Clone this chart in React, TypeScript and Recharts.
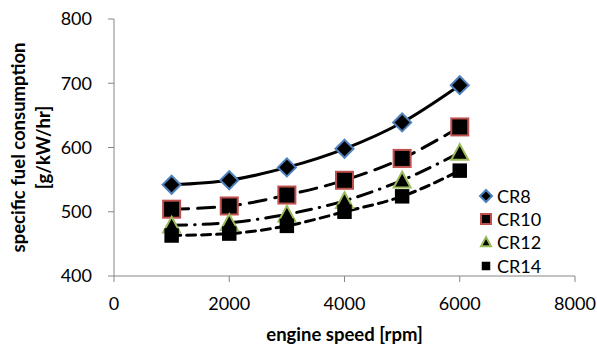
import React from 'react';
import { LineChart, Line, XAxis, YAxis, Legend } from 'recharts';

// engine speed [rpm]
const speeds = [1000, 2000, 3000, 4000, 5000, 6000];
// specific fuel consumption [g/kW/hr] per compression ratio
const cr8 = [542, 549, 569, 598, 639, 697];
const cr10 = [504, 509, 526, 549, 583, 632];
const cr12 = [479, 483, 496, 517, 549, 592];
const cr14 = [463, 466, 478, 500, 524, 564];

const xTicks = [0, 2000, 4000, 6000, 8000];
const yTicks = [400, 500, 600, 700, 800];

const FONT = 'Lato, "Open Sans", sans-serif';
const AXIS = '#868686';

const data = speeds.map((s, i) => ({
  speed: s,
  CR8: cr8[i],
  CR10: cr10[i],
  CR12: cr12[i],
  CR14: cr14[i],
}));

type Shape = 'diamond' | 'square' | 'triangle' | 'block';

const series: { key: string; shape: Shape; border: string; dash?: string }[] = [
  { key: 'CR8', shape: 'diamond', border: '#4F81BD' },
  { key: 'CR10', shape: 'square', border: '#C0504D', dash: '17 9' },
  { key: 'CR12', shape: 'triangle', border: '#9BBB59', dash: '15 8 0.5 8' },
  { key: 'CR14', shape: 'block', border: '#000000', dash: '9 6' },
];

// draws a marker centred on cx, cy; s is the half size
const Marker = ({ shape, cx, cy, s, border }: any) => {
  if (shape === 'diamond') {
    return (
      <path
        d={`M${cx} ${cy - s}L${cx + s} ${cy}L${cx} ${cy + s}L${cx - s} ${cy}Z`}
        fill="#000"
        stroke={border}
        strokeWidth={2}
      />
    );
  }
  if (shape === 'triangle') {
    return (
      <path
        d={`M${cx} ${cy - s}L${cx + s} ${cy + s * 0.85}L${cx - s} ${cy + s * 0.85}Z`}
        fill="#000"
        stroke={border}
        strokeWidth={2}
        strokeLinejoin="miter"
      />
    );
  }
  if (shape === 'square') {
    return <rect x={cx - s} y={cy - s} width={s * 2} height={s * 2} fill="#000" stroke={border} strokeWidth={2} />;
  }
  const b = s * 0.85;
  return <rect x={cx - b} y={cy - b} width={b * 2} height={b * 2} fill="#000" />;
};

const YTitle = ({ viewBox }: any) => {
  const cy = viewBox.y + viewBox.height / 2;
  return (
    <text
      transform={`translate(25, ${cy}) rotate(-90)`}
      textAnchor="middle"
      fontFamily={FONT}
      fontWeight="bold"
      fontSize={18.5}
      fill="#000"
    >
      <tspan x={0} y={0}>specific fuel consumption</tspan>
      <tspan x={0} y={25}>[g/kW/hr]</tspan>
    </text>
  );
};

const XTitle = ({ viewBox }: any) => (
  <text
    x={viewBox.x + viewBox.width / 2}
    y={341}
    textAnchor="middle"
    fontFamily={FONT}
    fontWeight="bold"
    fontSize={18.5}
    fill="#000"
  >
    engine speed [rpm]
  </text>
);

const LegendBox = () => (
  <div style={{ fontFamily: FONT, fontSize: 18, color: '#000' }}>
    {series.map((s) => (
      <div key={s.key} style={{ display: 'flex', alignItems: 'center', height: 23.3 }}>
        <svg width={18} height={18} style={{ marginRight: 2 }}>
          <Marker shape={s.shape} cx={9} cy={9} s={s.shape === 'diamond' ? 6 : 5} border={s.border} />
        </svg>
        <span>{s.key}</span>
      </div>
    ))}
  </div>
);

export default function App() {
  return (
    <div style={{ position: 'absolute', left: 0, top: 0, width: 597, height: 350, background: '#fff' }}>
      <LineChart width={597} height={350} data={data} margin={{ top: 19, right: 22, bottom: 14, left: 44 }}>
        <XAxis
          dataKey="speed"
          type="number"
          domain={[0, 8000]}
          ticks={xTicks}
          interval={0}
          height={60}
          stroke={AXIS}
          tickSize={6}
          tickMargin={15}
          tick={{ fill: '#000', fontSize: 18, fontFamily: FONT }}
          label={<XTitle />}
        />
        <YAxis
          type="number"
          domain={[400, 800]}
          ticks={yTicks}
          interval={0}
          width={70}
          stroke={AXIS}
          tickSize={6}
          tickMargin={16}
          tick={{ fill: '#000', fontSize: 18, fontFamily: FONT }}
          label={<YTitle />}
        />
        <Legend
          layout="vertical"
          align="center"
          verticalAlign="middle"
          content={<LegendBox />}
          wrapperStyle={{ left: 477, top: 184, width: 80 }}
        />
        {series.map((s) => (
          <Line
            key={s.key}
            dataKey={s.key}
            type="monotone"
            stroke="#000"
            strokeWidth={3}
            strokeDasharray={s.dash}
            strokeLinecap="round"
            isAnimationActive={false}
            dot={(p: any) => (
              <Marker
                key={`${s.key}-${p.index}`}
                shape={s.shape}
                cx={p.cx}
                cy={p.cy}
                s={s.shape === 'diamond' ? 9 : 8.5}
                border={s.border}
              />
            )}
            activeDot={false}
          />
        ))}
      </LineChart>
    </div>
  );
}
